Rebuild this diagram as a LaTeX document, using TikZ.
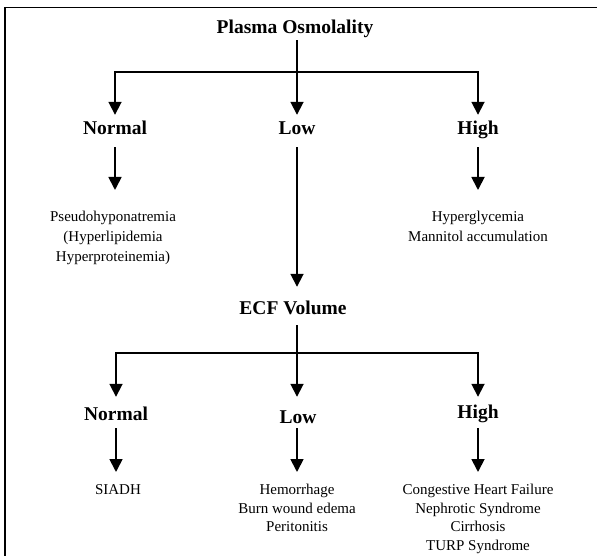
\documentclass[tikz,border=0pt]{standalone}
\usepackage{fontspec}
\setmainfont{Liberation Serif}
\usetikzlibrary{arrows.meta}
\begin{document}
\begin{tikzpicture}[x=1pt,y=-1pt,
  hd/.style={font=\bfseries\fontsize{19.5}{20}\selectfont, inner sep=0pt, text height=13.5pt, text depth=4.5pt, anchor=base},
  item/.style={font=\fontsize{15}{20}\selectfont, inner sep=0pt, align=center, anchor=north},
  itemb/.style={font=\fontsize{15}{18.5}\selectfont, inner sep=0pt, align=center, anchor=north},
  ln/.style={line width=1.8pt},
  arr/.style={line width=1.8pt, -{Triangle[width=13pt,length=13pt]}},
  frame/.style={line width=1.5pt}
]
\useasboundingbox (0,0) rectangle (597,556);
% frame (top and left only)
\coordinate (fa) at (5,556);
\coordinate (fb) at (5,7.5);
\coordinate (fc) at (597,7.5);
\draw[frame] (fa) -- (fb) -- (fc);

% level 1
\node[hd] (po) at (295,34) {Plasma Osmolality};
\coordinate (j1) at (297,72);
\node[hd] (n1) at (115,135) {Normal};
\node[hd] (l1) at (297,135) {Low};
\node[hd] (h1) at (478,135) {High};

\draw[ln, shorten <=1.5pt] (po.south -| j1) -- (j1);
\draw[arr, shorten >=6.5pt] (j1) -| (n1.north);
\draw[arr, shorten >=6.5pt] (j1) -- (l1.north);
\draw[arr, shorten >=6.5pt] (j1) -| (h1.north);

\node[item] (pseudo) at (113,207) {\strut Pseudohyponatremia\\(Hyperlipidemia\\Hyperproteinemia)};
\node[item] (hyper) at (478,207) {\strut Hyperglycemia\\Mannitol accumulation};

\draw[arr, shorten <=7.5pt, shorten >=17pt] (n1.south) -- (n1.south |- pseudo.north);
\draw[arr, shorten <=7.5pt, shorten >=17pt] (h1.south) -- (h1.south |- hyper.north);

% ECF volume
\node[hd] (ecf) at (293,314) {ECF Volume};
\draw[arr, shorten <=7.5pt, shorten >=13.5pt] (l1.south) -- (l1.south |- ecf.north);

\coordinate (j2) at (297,353);
\draw[ln, shorten <=6.5pt] (ecf.south -| j2) -- (j2);

\node[hd] (n2) at (116,420) {Normal};
\node[hd] (l2) at (298,423) {Low};
\node[hd] (h2) at (478,418) {High};

\draw[arr, shorten >=9.5pt] (j2) -| (n2.north);
\draw[arr, shorten >=12.5pt] (j2) -- (j2 |- l2.north);
\draw[arr, shorten >=7.5pt] (j2) -| (h2.north);

\node[itemb] (siadh) at (118,481.5) {\strut SIADH};
\node[itemb] (hem) at (297,481.5) {\strut Hemorrhage\\Burn wound edema\\Peritonitis};
\node[itemb] (chf) at (478,481.5) {\strut Congestive Heart Failure\\Nephrotic Syndrome\\Cirrhosis\\TURP Syndrome};

\draw[arr, shorten <=3.5pt, shorten >=9.5pt] (n2.south) -- (n2.south |- siadh.north);
\draw[arr, shorten <=0.5pt, shorten >=9.5pt] (l2.south -| j2) -- (j2 |- hem.north);
\draw[arr, shorten <=5.5pt, shorten >=9.5pt] (h2.south) -- (h2.south |- chf.north);
\end{tikzpicture}
\end{document}
